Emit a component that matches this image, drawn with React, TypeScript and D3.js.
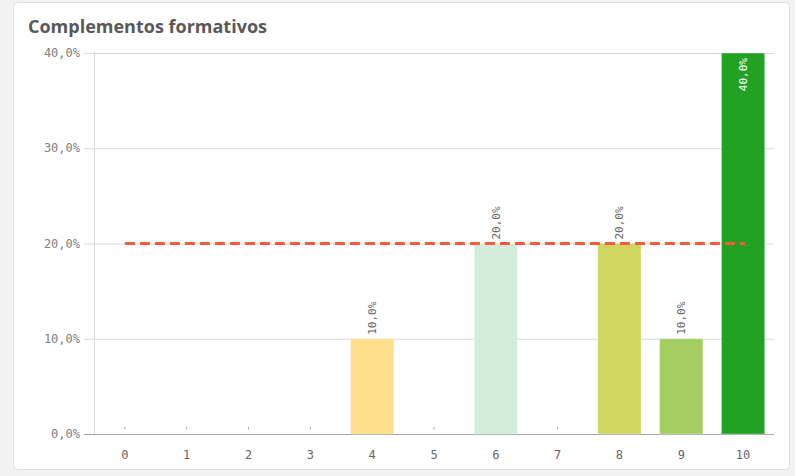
import React from "react";
import * as d3 from "d3";

const categories = ["0", "1", "2", "3", "4", "5", "6", "7", "8", "9", "10"];
const values = [0, 0, 0, 0, 10, 0, 20, 0, 20, 10, 40];
const barColors = ["#dddddd", "#dddddd", "#dddddd", "#dddddd", "#fddf8b", "#dddddd", "#d2eedb", "#dddddd", "#cfd65e", "#a3cd60", "#21a223"];
const yTicks = [0, 10, 20, 30, 40];
const referenceValue = 20;
const title = "Complementos formativos";

const W = 795;
const H = 476;
const left = 94;
const right = 774;
const top = 53;
const bottom = 434;

const fmt = (v: number) => v.toFixed(1).replace(".", ",") + "%";

export default function App() {
  const x = d3.scaleBand<string>().domain(categories).range([left, right]).paddingInner(0.3).paddingOuter(0.15);
  const y = d3.scaleLinear().domain([0, 40]).range([bottom, top]);
  const bw = x.bandwidth();
  const mono = "'DejaVu Sans Mono', monospace";
  const refY = y(referenceValue);
  const c0 = (x(categories[0]) as number) + bw / 2;
  const cN = (x(categories[categories.length - 1]) as number) + bw / 2;
  return (
    <svg width={W} height={H} style={{ position: "absolute", left: 0, top: 0, display: "block" }}>
      <rect x={0} y={0} width={W} height={H} fill="#f2f2f2" />
      <rect x={13.5} y={2.5} width={776} height={467} rx={4} fill="#ffffff" stroke="#e0e0e0" />
      <text x={28} y={33} fontFamily="'Open Sans', sans-serif" fontWeight={700} fontSize={18} fill="#595959">{title}</text>
      {yTicks.map((t) => (
        <g key={t}>
          <line x1={left - 10} x2={right} y1={y(t) + 0.5} y2={y(t) + 0.5} stroke={t === 0 ? "#a6a6a6" : "#d9d9d9"} />
          <text x={80} y={y(t) + 4} textAnchor="end" fontFamily={mono} fontSize={12} fill="#808080">{fmt(t)}</text>
        </g>
      ))}
      <line x1={left + 0.5} x2={left + 0.5} y1={top - 1} y2={bottom} stroke="#d9d9d9" />
      {categories.map((c, i) => {
        const bx = x(c) as number;
        const cx = bx + bw / 2;
        const v = values[i];
        const yt = y(v);
        return (
          <g key={c}>
            {v > 0 ? (
              <rect x={bx} y={yt} width={bw} height={bottom - yt} fill={barColors[i]} stroke="#ffffff" strokeOpacity={0.35} />
            ) : (
              <line x1={cx} x2={cx} y1={bottom - 7} y2={bottom - 4.5} stroke="#aaaaaa" />
            )}
            {v > 0 && v < 40 && (
              <text transform={`translate(${cx + 4},${yt - 4}) rotate(-90)`} fontFamily={mono} fontSize={11} fill="#666666">{fmt(v)}</text>
            )}
            {v >= 40 && (
              <text transform={`translate(${cx + 4},${yt + 5}) rotate(-90)`} textAnchor="end" fontFamily={mono} fontSize={11} fill="#ffffff">{fmt(v)}</text>
            )}
            <text x={cx} y={459} textAnchor="middle" fontFamily={mono} fontSize={12} fill="#666666">{c}</text>
          </g>
        );
      })}
      <line x1={c0} x2={cN + 2} y1={refY} y2={refY} stroke="#fa5a3c" strokeWidth={3} strokeDasharray="10,5" />
    </svg>
  );
}
